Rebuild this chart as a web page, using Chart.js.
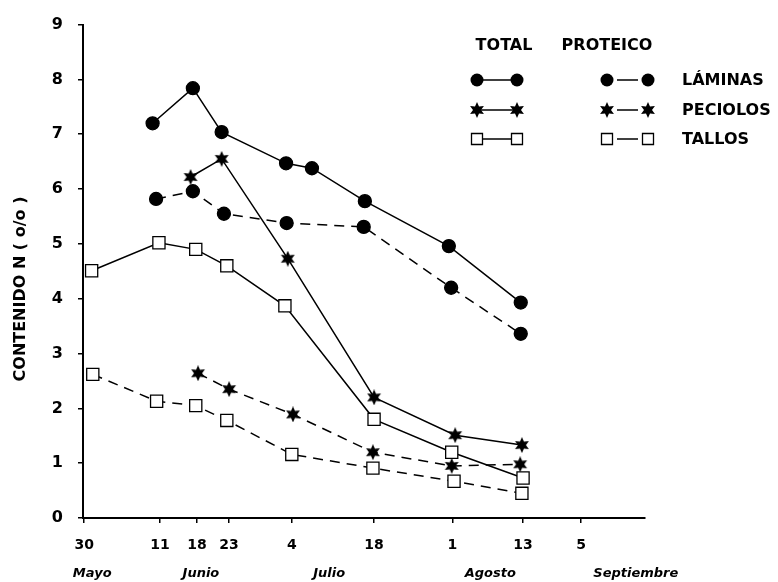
<!DOCTYPE html>
<html>
<head>
<meta charset="utf-8">
<script src="https://cdn.jsdelivr.net/npm/chart.js@4.4.1/dist/chart.umd.min.js"></script>
<style>
  html, body { margin: 0; padding: 0; background: #fff; }
  #wrap { width: 778px; height: 582px; }
</style>
</head>
<body>
<div id="wrap"><canvas id="nChart" width="778" height="582"></canvas></div>
<script>
// Días desde el 30 de mayo (eje X) y contenido de N en %
const xTickDays   = [-1.5, 11.7, 18.1, 23.7, 34.6, 48.9, 62.5, 74.8, 84.9];
const xTickLabels = ['30', '11', '18', '23', '4', '18', '1', '13', '5'];
const monthDays   = [-0.1, 18.8, 41.1, 69.1, 94.4];
const monthLabels = ['Mayo', 'Junio', 'Julio', 'Agosto', 'Septiembre'];

const laminasTotalX = [10.4, 17.4, 22.4, 33.6, 38.1, 47.3, 61.9, 74.4];
const laminasTotalY = [7.2, 7.84, 7.04, 6.47, 6.38, 5.78, 4.96, 3.93];
const laminasProtX  = [11.0, 17.4, 22.8, 33.7, 47.1, 62.3, 74.4];
const laminasProtY  = [5.82, 5.96, 5.55, 5.38, 5.31, 4.2, 3.36];

const peciolosTotalX = [17.0, 22.4, 33.9, 48.9, 63.0, 74.6];
const peciolosTotalY = [6.22, 6.55, 4.73, 2.2, 1.51, 1.33];
const peciolosProtX  = [18.3, 23.7, 34.8, 48.7, 62.4, 74.3];
const peciolosProtY  = [2.64, 2.35, 1.89, 1.2, 0.95, 0.98];

const tallosTotalX = [-0.2, 11.5, 17.9, 23.3, 33.4, 48.9, 62.4, 74.8];
const tallosTotalY = [4.51, 5.02, 4.9, 4.6, 3.87, 1.8, 1.2, 0.73];
const tallosProtX  = [0.0, 11.1, 17.9, 23.3, 34.6, 48.7, 62.8, 74.6];
const tallosProtY  = [2.62, 2.13, 2.05, 1.78, 1.16, 0.91, 0.67, 0.45];

const FONT = '"DejaVu Sans", "Liberation Sans", sans-serif';
const DASH = [10, 7];

// Estrella rellena de 6 puntas para los peciolos
function makeStar(size) {
    const c = document.createElement('canvas');
    c.width = size; c.height = size;
    const g = c.getContext('2d');
    const r = size / 2, ri = r * 0.5;
    g.beginPath();
    for (let i = 0; i < 12; i++) {
        const rad = i % 2 === 0 ? r : ri;
        const a = -Math.PI / 2 + i * Math.PI / 6;
        const px = r + rad * Math.cos(a), py = r + rad * Math.sin(a);
        if (i === 0) g.moveTo(px, py); else g.lineTo(px, py);
    }
    g.closePath();
    g.fillStyle = '#000';
    g.fill();
    return c;
}
const starImg = makeStar(16);

function toPoints(xs, ys) {
    return xs.map((x, i) => ({ x: x, y: ys[i] }));
}

function series(label, xs, ys, marker, dashed) {
    const base = {
        label: label,
        data: toPoints(xs, ys),
        borderColor: '#000',
        borderWidth: 1.5,
        borderDash: dashed ? DASH : [],
        tension: 0,
        fill: false,
        pointBorderColor: '#000',
        pointBorderWidth: 1.3
    };
    if (marker === 'circle') {
        base.pointStyle = 'circle';
        base.pointRadius = 6.5;
        base.pointBackgroundColor = '#000';
    } else if (marker === 'square') {
        base.pointStyle = 'rect';
        base.pointRadius = 8.6;
        base.pointBackgroundColor = '#fff';
    } else {
        base.pointStyle = starImg;
        base.pointRadius = 8;
    }
    return base;
}

// Marcadores de la leyenda, dibujados a mano
function drawMarker(ctx, kind, x, y) {
    ctx.save();
    if (kind === 'circle') {
        ctx.beginPath();
        ctx.arc(x, y, 6.5, 0, Math.PI * 2);
        ctx.fillStyle = '#000';
        ctx.fill();
    } else if (kind === 'square') {
        ctx.beginPath();
        ctx.rect(x - 5.5, y - 5.5, 11, 11);
        ctx.fillStyle = '#fff';
        ctx.fill();
        ctx.lineWidth = 1.3;
        ctx.strokeStyle = '#000';
        ctx.stroke();
    } else {
        ctx.drawImage(starImg, x - 8, y - 8);
    }
    ctx.restore();
}

const extrasPlugin = {
    id: 'extras',
    afterDraw(chart) {
        const ctx = chart.ctx;
        const xs = chart.scales.x;

        // Meses bajo los días
        ctx.save();
        ctx.fillStyle = '#000';
        ctx.font = 'italic bold 13px ' + FONT;
        ctx.textAlign = 'center';
        ctx.textBaseline = 'middle';
        monthLabels.forEach((m, i) => {
            ctx.fillText(m, xs.getPixelForValue(monthDays[i]), 574);
        });

        // Título del eje Y
        ctx.translate(21, 289);
        ctx.rotate(-Math.PI / 2);
        ctx.font = 'bold 16px ' + FONT;
        ctx.fillText('CONTENIDO N ( o/o )', 0, 0);
        ctx.restore();

        // Leyenda: TOTAL / PROTEICO
        ctx.save();
        ctx.fillStyle = '#000';
        ctx.strokeStyle = '#000';
        ctx.font = 'bold 16px ' + FONT;
        ctx.textBaseline = 'middle';
        ctx.textAlign = 'center';
        ctx.fillText('TOTAL', 504, 46);
        ctx.fillText('PROTEICO', 607, 46);
        const rows = [
            { name: 'LÁMINAS', kind: 'circle', y: 80 },
            { name: 'PECIOLOS', kind: 'star', y: 110 },
            { name: 'TALLOS', kind: 'square', y: 139 }
        ];
        ctx.textAlign = 'left';
        ctx.lineWidth = 1.5;
        rows.forEach(r => {
            ctx.beginPath();
            ctx.moveTo(477, r.y); ctx.lineTo(517, r.y);
            ctx.stroke();
            drawMarker(ctx, r.kind, 477, r.y);
            drawMarker(ctx, r.kind, 517, r.y);

            ctx.beginPath();
            ctx.moveTo(617, r.y); ctx.lineTo(638, r.y);
            ctx.stroke();
            drawMarker(ctx, r.kind, 607, r.y);
            drawMarker(ctx, r.kind, 648, r.y);

            ctx.fillText(r.name, 682, r.y + 1);
        });
        ctx.restore();
    }
};

new Chart(document.getElementById('nChart').getContext('2d'), {
    type: 'line',
    data: {
        datasets: [
            series('Láminas total', laminasTotalX, laminasTotalY, 'circle', false),
            series('Láminas proteico', laminasProtX, laminasProtY, 'circle', true),
            series('Peciolos total', peciolosTotalX, peciolosTotalY, 'star', false),
            series('Peciolos proteico', peciolosProtX, peciolosProtY, 'star', true),
            series('Tallos total', tallosTotalX, tallosTotalY, 'square', false),
            series('Tallos proteico', tallosProtX, tallosProtY, 'square', true)
        ]
    },
    options: {
        responsive: false,
        animation: false,
        layout: { padding: { top: 22, right: 133, left: 0, bottom: 0 } },
        plugins: {
            legend: { display: false },
            tooltip: { enabled: false }
        },
        scales: {
            x: {
                type: 'linear',
                min: -1.7,
                max: 96,
                afterFit(scale) { scale.height = 64; },
                afterBuildTicks(scale) {
                    scale.ticks = xTickDays.map(v => ({ value: v }));
                },
                border: { display: true, color: '#000', width: 2 },
                grid: { display: true, drawOnChartArea: false, drawTicks: true, tickLength: 5, color: '#000', lineWidth: 1.5 },
                ticks: {
                    autoSkip: false,
                    maxRotation: 0,
                    padding: 14,
                    color: '#000',
                    font: { family: FONT, size: 14, weight: 'bold' },
                    callback: (value, index) => xTickLabels[index]
                }
            },
            y: {
                type: 'linear',
                min: 0,
                max: 9,
                afterFit(scale) { scale.width = 83; },
                border: { display: true, color: '#000', width: 2 },
                grid: { display: true, drawOnChartArea: false, drawTicks: true, tickLength: 5, color: '#000', lineWidth: 1.5 },
                ticks: {
                    stepSize: 1,
                    padding: 15,
                    color: '#000',
                    font: { family: FONT, size: 16, weight: 'bold' }
                }
            }
        }
    },
    plugins: [extrasPlugin]
});
</script>
</body>
</html>
